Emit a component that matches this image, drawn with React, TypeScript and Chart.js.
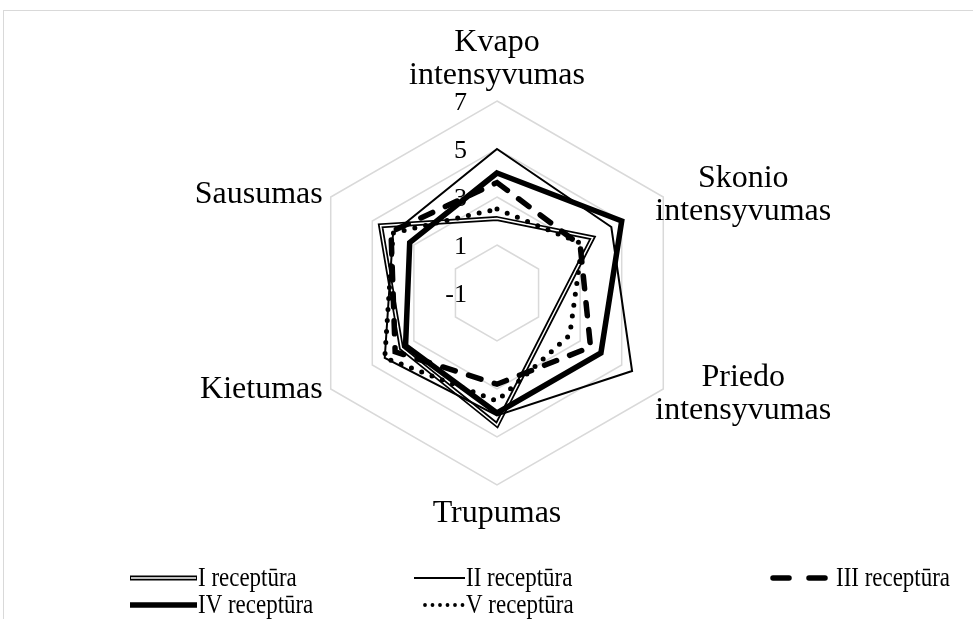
import React, { useEffect, useRef } from "react";
import { Chart, registerables } from "chart.js";

Chart.register(...registerables);

// ---- data ----
const categories: string[][] = [
  ["Kvapo", "intensyvumas"],
  ["Skonio", "intensyvumas"],
  ["Priedo", "intensyvumas"],
  ["Trupumas"],
  ["Kietumas"],
  ["Sausumas"],
];
const tickValues = [-1, 1, 3, 5, 7];
const seriesNames = ["I receptūra", "II receptūra", "III receptūra", "IV receptūra", "V receptūra"];
const recI = [2.1, 3.6, 1.5, 4.5, 3.6, 4.6];
const recII = [5.0, 4.5, 5.5, 4.1, 4.4, 4.0];
const recIII = [3.6, 3.0, 3.5, 2.8, 3.9, 4.1];
const recIV = [4.0, 5.0, 4.0, 4.0, 3.4, 3.2];
const recV = [2.5, 3.1, 2.5, 3.5, 4.4, 4.0];

const SERIF = "'Liberation Serif', 'Times New Roman', serif";

const styleKinds = ["double", "thin", "dash", "thick", "dot"];

function strokeSample(ctx: CanvasRenderingContext2D, kind: string, x0: number, x1: number, y: number) {
  ctx.save();
  ctx.strokeStyle = "#000";
  ctx.beginPath();
  if (kind === "double") {
    ctx.lineWidth = 5;
    ctx.moveTo(x0, y); ctx.lineTo(x1, y); ctx.stroke();
    ctx.strokeStyle = "#fff"; ctx.lineWidth = 1.5;
    ctx.beginPath(); ctx.moveTo(x0 + 1, y); ctx.lineTo(x1 - 1, y); ctx.stroke();
  } else if (kind === "thin") {
    ctx.lineWidth = 2;
    ctx.moveTo(x0, y); ctx.lineTo(x1, y); ctx.stroke();
  } else if (kind === "thick") {
    ctx.lineWidth = 5.5;
    ctx.moveTo(x0, y); ctx.lineTo(x1, y); ctx.stroke();
  } else if (kind === "dash") {
    ctx.lineWidth = 5.5; ctx.lineCap = "round";
    ctx.setLineDash([16, 20]);
    ctx.moveTo(x0 + 3, y); ctx.lineTo(x1 - 3, y); ctx.stroke();
  } else if (kind === "dot") {
    ctx.lineWidth = 3.8; ctx.lineCap = "round";
    ctx.setLineDash([0, 7.5]);
    ctx.moveTo(x1 - 40, y); ctx.lineTo(x1 - 2, y); ctx.stroke();
  }
  ctx.restore();
}

const decorPlugin = {
  id: "decor",
  afterDraw(chart: any) {
    const ctx: CanvasRenderingContext2D = chart.ctx;
    const scale = chart.scales.r;
    ctx.save();
    // frame
    ctx.strokeStyle = "#d9d9d9";
    ctx.lineWidth = 1;
    ctx.strokeRect(3.5, 10.5, chart.width + 20, chart.height + 20);

    // tick labels
    ctx.fillStyle = "#000";
    ctx.font = `26px ${SERIF}`;
    ctx.textAlign = "right";
    ctx.textBaseline = "middle";
    tickValues.forEach((v) => {
      const p = scale.getPointPositionForValue(0, v);
      ctx.fillText(String(v), p.x - 30, p.y + 2);
    });

    // point labels
    ctx.font = `32px ${SERIF}`;
    const R = scale.drawingArea;
    const lh = 33;
    categories.forEach((lines, i) => {
      const p = scale.getPointPosition(i, R);
      const n = lines.length;
      const maxW = Math.max(...lines.map((t) => ctx.measureText(t).width));
      let cx = p.x, cy = p.y, align: CanvasTextAlign = "center";
      if (i === 0) { cy = p.y - 42; }
      else if (i === 1) { cx = p.x - 8 + maxW / 2; cy = p.y - 2; }
      else if (i === 2) { cx = p.x - 8 + maxW / 2; cy = p.y + 5; }
      else if (i === 3) { cy = p.y + 29; }
      else if (i === 4) { cx = p.x - 8; cy = p.y + 1; align = "right"; }
      else { cx = p.x - 8; cy = p.y - 2; align = "right"; }
      ctx.textAlign = align;
      lines.forEach((t, k) => {
        ctx.fillText(t, cx, cy + (k - (n - 1) / 2) * lh);
      });
    });

    // legend
    ctx.font = `27px ${SERIF}`;
    ctx.textAlign = "left";
    const cols = [198, 466, 836];
    const lineStarts = [130, 414, 770];
    const rows = [578, 605];
    seriesNames.forEach((name, i) => {
      const col = i % 3, row = Math.floor(i / 3);
      const tx = cols[col], ty = rows[row];
      strokeSample(ctx, styleKinds[i], lineStarts[col], tx - 1, ty);
      ctx.save();
      ctx.fillStyle = "#000";
      ctx.translate(tx, ty + 1);
      ctx.scale(0.85, 1);
      ctx.fillText(name, 0, 0);
      ctx.restore();
    });
    ctx.restore();
  },
};

export default function App() {
  const ref = useRef<HTMLCanvasElement>(null);
  useEffect(() => {
    if (!ref.current) return;
    const base = { fill: false, pointRadius: 0, pointHoverRadius: 0, borderColor: "#000", borderJoinStyle: "miter" as const };
    const chart = new Chart(ref.current, {
      type: "radar",
      data: {
        labels: categories.map((c) => c.join(" ")),
        datasets: [
          { ...base, label: seriesNames[0], data: recI, borderWidth: 5, order: 5 },
          { ...base, label: seriesNames[0] + " inner", data: recI, borderWidth: 1.5, borderColor: "#fff", order: 4 },
          { ...base, label: seriesNames[1], data: recII, borderWidth: 2, order: 3 },
          { ...base, label: seriesNames[2], data: recIII, borderWidth: 5.5, borderDash: [13, 14], borderCapStyle: "round", order: 2 },
          { ...base, label: seriesNames[3], data: recIV, borderWidth: 5.5, order: 1 },
          { ...base, label: seriesNames[4], data: recV, borderWidth: 5, borderDash: [0, 11], borderCapStyle: "round", order: 0 },
        ] as any,
      },
      options: {
        animation: false,
        responsive: false,
        layout: { padding: { left: 305, right: 284, top: 101, bottom: 134 } },
        plugins: { legend: { display: false }, tooltip: { enabled: false } },
        elements: { line: { tension: 0 } },
        scales: {
          r: {
            min: -1,
            max: 7,
            ticks: { stepSize: 2, display: false },
            grid: { color: "#d9d9d9", lineWidth: 1.5, circular: false },
            angleLines: { display: false },
            pointLabels: { display: false },
          },
        },
      },
      plugins: [decorPlugin],
    });
    return () => chart.destroy();
  }, []);
  return (
    <div style={{ position: "fixed", left: 0, top: 0, width: 973, height: 619, background: "#fff" }}>
      <canvas ref={ref} width={973} height={619} style={{ display: "block" }} />
    </div>
  );
}
